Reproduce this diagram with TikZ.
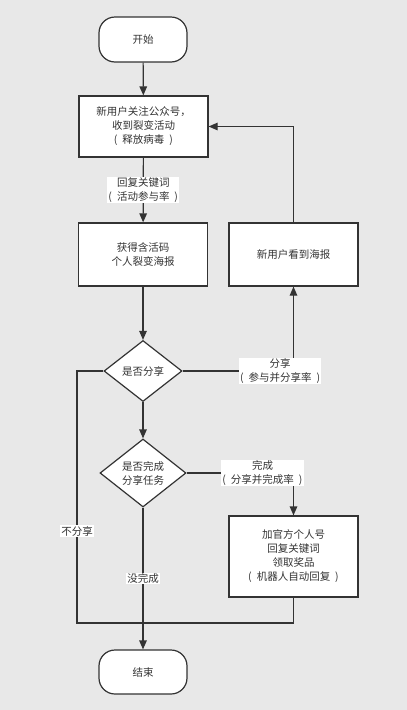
\documentclass[tikz,border=0pt]{standalone}
\usepackage{fontspec}
\setmainfont{Noto Sans CJK SC}
\usetikzlibrary{shapes.geometric,arrows.meta}
\definecolor{bgc}{HTML}{E8E8E8}
\definecolor{ink}{HTML}{333333}
\newcommand{\lp}{(\hspace{5pt}}
\newcommand{\rp}{\hspace{5pt})}
\begin{document}
\begin{tikzpicture}[x=1pt,y=-1pt,
  every node/.style={font=\fontsize{10.5}{14}\selectfont, text=ink},
  line/.style={draw=ink, line width=1.2pt},
  arr/.style={line, -{Triangle[length=9pt,width=7.5pt]}},
  proc/.style={draw=ink, fill=white, line width=1.2pt, minimum width=129pt, align=center, inner sep=0pt},
  term/.style={draw=ink, fill=white, line width=1.2pt, minimum width=88pt, minimum height=45pt, rounded corners=16pt, inner sep=0pt},
  decision/.style={diamond, draw=ink, fill=white, line width=1.2pt, align=center, inner sep=0pt},
  elabel/.style={fill=white, align=center, inner sep=1pt, font=\fontsize{10.5}{14}\selectfont}
]
\useasboundingbox[fill=bgc] (0,0) rectangle (407,710);

\node[term] (start) at (143,39.5) {开始};
\node[proc, minimum height=61pt] (b1) at (143.5,126.5) {新用户关注公众号，\\收到裂变活动\\\lp 释放病毒\rp};
\node[proc, minimum height=63pt] (b2) at (143,254.5) {获得含活码\\个人裂变海报};
\node[proc, minimum height=63pt] (b3) at (293.5,254.5) {新用户看到海报};
\node[decision, minimum width=78pt, minimum height=61pt, shape aspect=1.28] (d1) at (143,371) {是否分享};
\node[decision, minimum width=86pt, minimum height=68pt, shape aspect=1.26] (d2) at (143,473) {是否完成\\分享任务};
\node[proc, minimum height=81pt] (b4) at (293.5,556.5) {加官方个人号\\回复关键词\\领取奖品\\\lp 机器人自动回复\rp};
\node[term, minimum height=44pt] (end) at (143,672) {结束};

\coordinate (cMerge) at (143,623);
\coordinate (cLeftTop) at (77,371);
\coordinate (cLeftBot) at (77,623);

\draw[arr] (start) -- (b1);
\draw[arr] (b1) -- node[elabel, pos=0.5] (l1) {回复关键词\\\lp 活动参与率\rp} (b2);
\draw[arr] (b2) -- (d1);
\draw[arr] (d1) -- (d2);
\draw[arr] (d1.east) -| node[elabel, pos=0.44] (l2) {分享\\\lp 参与并分享率\rp} (b3.south);
\draw[arr] (b3.north) |- (b1.east);
\draw[arr] (d2.east) -| node[elabel, pos=0.355] (l3) {完成\\\lp 分享并完成率\rp} (b4.north);
\draw[arr] (d2.south) -- node[elabel, pos=0.5] (l4) {没完成} (end.north);
\draw[line] (d1.west) -- (cLeftTop) -- node[elabel, pos=0.635] (l5) {不分享} (cLeftBot) -- (cMerge);
\draw[line] (b4.south) |- (cMerge);
\end{tikzpicture}
\end{document}
